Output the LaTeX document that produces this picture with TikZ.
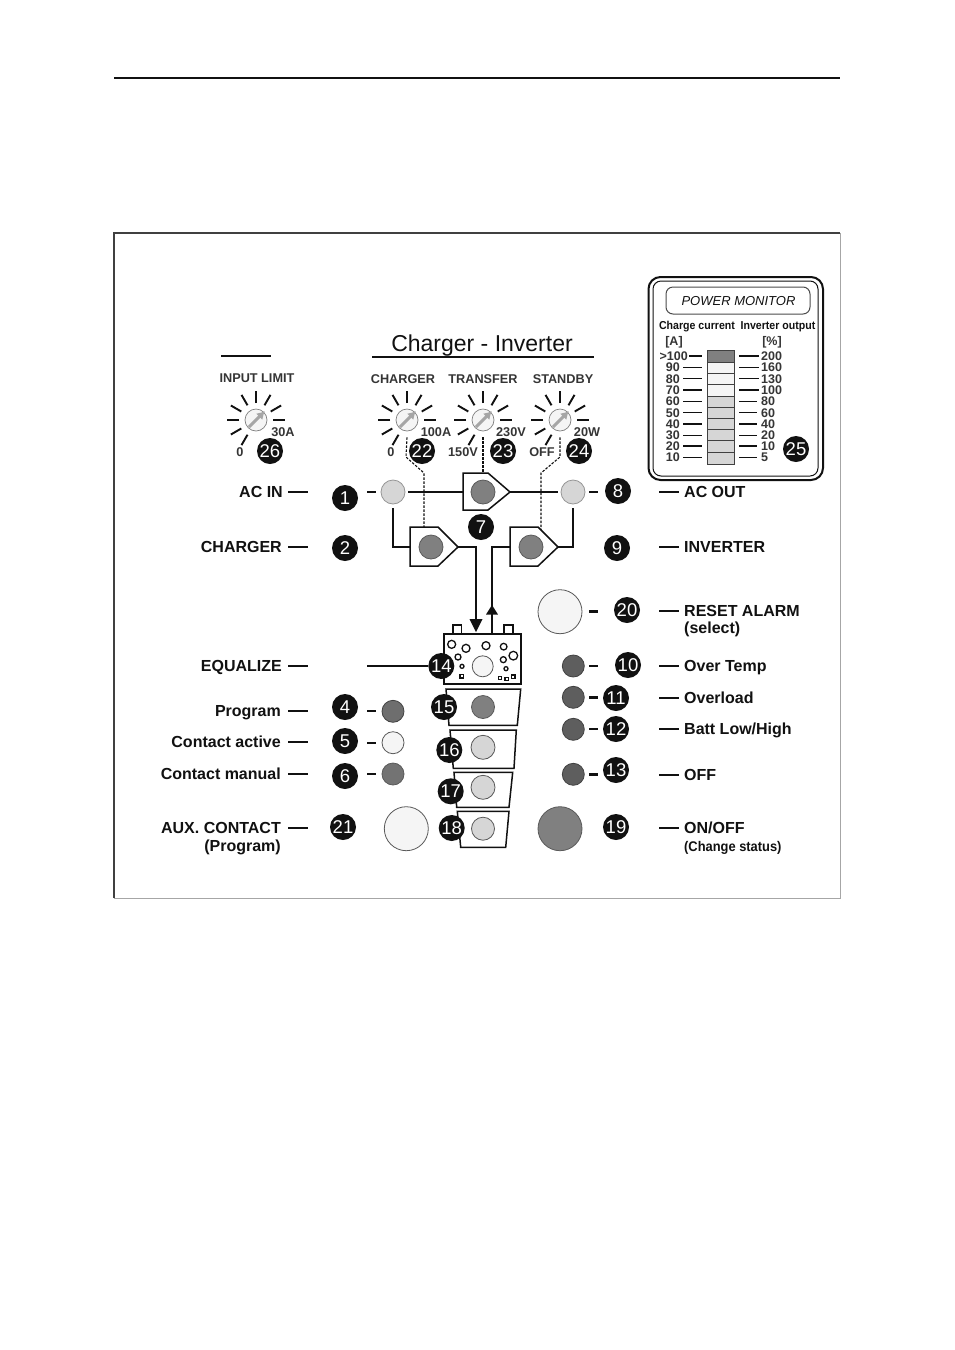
\documentclass[tikz,border=0pt]{standalone}
\usepackage{fontspec}
\setmainfont{Liberation Sans}
\usetikzlibrary{arrows.meta}
\definecolor{ink}{HTML}{111111}
\definecolor{ledL}{HTML}{D6D6D6}
\definecolor{ledM}{HTML}{808080}
\definecolor{ledD}{HTML}{5E5E5E}
\definecolor{ledW}{HTML}{F5F5F5}
\tikzset{
  lbl/.style={font=\fontsize{16}{17}\selectfont\bfseries,text=ink,inner sep=0pt,anchor=base east,yshift=-5.5pt},
  lbr/.style={font=\fontsize{16}{17}\selectfont\bfseries,text=ink,inner sep=0pt,anchor=base west,yshift=-5.5pt},
  small/.style={font=\fontsize{12.7}{13}\selectfont\bfseries,text=ink!85,inner sep=0pt},
  badge/.style={circle,fill=ink,text=white,inner sep=0pt,minimum size=26pt,font=\fontsize{18.5}{19}\selectfont},
  led/.style={circle,draw=#1!70!black,line width=.8pt,inner sep=0pt},
  wire/.style={line width=2.2pt,draw=ink},
  dashline/.style={line width=1.1pt,draw=ink,dash pattern=on 2.5pt off 1.5pt},
  outlined/.style={draw=ink,line width=1.5pt,fill=white,line join=miter},
  mon/.style={font=\fontsize{12.5}{13}\selectfont\bfseries,text=ink!85,inner sep=0pt},
}
\newcommand{\dial}[3]{%
  \node[circle,draw=gray,fill=ledW,minimum size=22pt,inner sep=0pt,line width=.7pt] (#1) at (#2,#3) {};
  \foreach \a in {0,30,60,90,120,150,180,210,240}
    \draw[line width=1.9pt,ink] (#1.center) ++(-\a:17) -- ++(-\a:12);
  \draw[line width=3pt,gray!70,-{Latex[length=8pt,width=9pt]}] (#1.center) ++(-7,7) -- ++(16,-16);
}
\begin{document}
\begin{tikzpicture}[x=1pt,y=-1pt]
\useasboundingbox (0,0) rectangle (954,1350);
\fill[white] (0,0) rectangle (954,1350);
% page rule and frame
\coordinate (ruleL) at (114,78); \coordinate (ruleR) at (840,78);
\draw[line width=1.7pt,ink] (ruleL) -- (ruleR);
\draw[line width=.6pt,gray!70] (840,233) -- (840,898) -- (114,898);
\draw[line width=1.8pt,black!75] (114,898) -- (114,233) -- (840,233);
% titles
\node[inner sep=0pt,text=ink,font=\fontsize{23}{24}\selectfont] (title) at (482,346) {Charger - Inverter};
\draw[line width=1.2pt,ink] (372,357) -- (594,357);
\draw[line width=1.2pt,ink] (221,356) -- (271,356);
\node[small] (tIL) at (257,378) {INPUT LIMIT};
\node[small] (tCH) at (403,379) {CHARGER};
\node[small] (tTR) at (483,379) {TRANSFER};
\node[small] (tSB) at (563,379) {STANDBY};
% dials
\dial{dIL}{256}{420}
\dial{dCH}{407}{420}
\dial{dTR}{483}{420}
\dial{dSB}{560}{420}
\node[small] (a1) at (283,432) {30A};
\node[small] (a2) at (436,432) {100A};
\node[small] (a3) at (511,432) {230V};
\node[small] (a4) at (587,432) {20W};
\node[small] (b1) at (240,452) {0};
\node[small] (b2) at (391,452) {0};
\node[small] (b3) at (463,452) {150V};
\node[small] (b4) at (542,452) {OFF};
% pentagons
\coordinate (p7w) at (463,492); \coordinate (p7e) at (510,492); \coordinate (p7t) at (483,473);
\coordinate (pLw) at (410,547); \coordinate (pLe) at (458,547); \coordinate (pLt) at (424,527);
\coordinate (pRw) at (510,547); \coordinate (pRe) at (558,547); \coordinate (pRt) at (541,530);
% dashed control lines
\draw[dashline] ([yshift=-6pt]dCH.south) -- (406,457) -- (424,473) -- (pLt);
\draw[dashline] ([yshift=-6pt]dTR.south) -- (p7t);
\draw[dashline] ([yshift=-6pt]dSB.south) -- (560,457) -- (541,473) -- (pRt);
\draw[outlined] (463,473) -- (488,473) -- (510,492) -- (488,510) -- (463,510) -- cycle;
\draw[outlined] (410,527) -- (438,527) -- (458,547) -- (438,566) -- (410,566) -- cycle;
\draw[outlined] (510,527) -- (538,527) -- (558,547) -- (538,566) -- (510,566) -- cycle;
\node[led=ledM,fill=ledM,minimum size=24pt] (l7) at (483,492) {};
\node[led=ledM,fill=ledM,minimum size=24pt] (l3) at (431,547) {};
\node[led=ledM,fill=ledM,minimum size=24pt] (l9) at (531,547) {};
\node[led=ledL,fill=ledL,minimum size=24pt] (l1) at (393,492) {};
\node[led=ledL,fill=ledL,minimum size=24pt] (l8) at (573,492) {};
% wires
\draw[wire] ([xshift=3pt]l1.east) -- (p7w);
\draw[wire] (p7e) -- ([xshift=-3pt]l8.west);
\draw[wire] ([yshift=-4pt]l1.south) |- (pLw);
\draw[wire] ([yshift=-4pt]l8.south) |- (pRe);
% equalize block
\coordinate (eqT1) at (476,634); \coordinate (eqT2) at (492,634);
\draw[outlined] (453,634) rectangle (461.5,625);
\draw[outlined] (504,634) rectangle (513,625);
\draw[outlined] (444,634) rectangle (521,684);
\draw[wire] (pLe) -| (476,620);
\draw[wire] (pRw) -| (492,610);
\draw[wire] (492,610) -- (eqT2);
\fill[ink] (476,632) -- (469.5,619) -- (482.5,619) -- cycle;
\fill[ink] (492,605) -- (486,614.5) -- (498,614.5) -- cycle;
\begin{scope}[shift={(360,590)},x=1/3 pt,y=-1/3 pt,line width=1.3pt,ink]
\foreach \cx/\cy/\r in {275/163/12,318/175/12,378/167/12,431/170/10,460/197/13,430/209/9,294/201/9,306/229/6,438/236/6}
  \draw (\cx,\cy) circle[radius=\r];
\foreach \cx/\cy in {305/259,420/264,440/267,460/260}
  \draw (\cx-5,\cy-5) rectangle (\cx+5,\cy+5);
\end{scope}
\node[led=gray,fill=ledW,minimum size=21pt] (lEq) at (482.7,666.3) {};
% trapezoids
\draw[outlined] (446,689) -- (520.7,689) -- (517.3,725.3) -- (449,725.3) -- cycle;
\draw[outlined] (450,730) -- (516.3,730) -- (514,768.3) -- (453.3,768.3) -- cycle;
\draw[outlined] (454,772.3) -- (512.7,772.3) -- (509,807.3) -- (456.7,807.3) -- cycle;
\draw[outlined] (457.3,811.3) -- (509,811.3) -- (505.7,847.3) -- (460.7,847.3) -- cycle;
\node[led=ledM,fill=ledM,minimum size=23pt] (l15) at (483,707) {};
\node[led=gray,fill=ledL,minimum size=24pt] (l16) at (483,747.3) {};
\node[led=gray,fill=ledL,minimum size=24pt] (l17) at (483,787.3) {};
\node[led=gray,fill=ledL,minimum size=23pt] (l18) at (483,828.7) {};
% left LEDs
\node[led=ledD,fill=ledD!90!white,minimum size=22pt] (l4) at (393,711.3) {};
\node[led=gray,fill=ledW,minimum size=22pt] (l5) at (393,742.7) {};
\node[led=ledM,fill=ledM!90!black,minimum size=22pt] (l6) at (393,774) {};
\node[led=gray,fill=ledW,minimum size=44pt] (l21) at (406.3,828.7) {};
\node[led=ledM,fill=ledM,minimum size=44pt] (l19) at (560,828.7) {};
\node[led=gray,fill=ledW,minimum size=44pt] (l20) at (560,611.7) {};
\node[led=ledD,fill=ledD,minimum size=22pt] (l10) at (573.3,666) {};
\node[led=ledD,fill=ledD,minimum size=22pt] (l11) at (573.3,697.3) {};
\node[led=ledD,fill=ledD,minimum size=22pt] (l12) at (573.3,729.3) {};
\node[led=ledD,fill=ledD,minimum size=22pt] (l13) at (573.3,774.3) {};
% short dashes by LEDs
\foreach \y in {492,711,743,774} \draw[wire] (367,\y) -- (376,\y);
\foreach \y in {492,611.5,666,697.5,729,774.5} \draw[wire] (589,\y) -- (598,\y);
% left labels
\foreach \y in {492,547,666,711,742,774,828} \draw[wire] (288,\y) -- (308,\y);
\node[lbl] (tAC) at (283,492) {AC IN};
\node[lbl] (tCG) at (282,547) {CHARGER};
\node[lbl] (tEQ) at (282,666) {EQUALIZE};
\node[lbl] (tPR) at (281,711) {Program};
\node[lbl] (tCA) at (281,742) {Contact active};
\node[lbl] (tCM) at (281,774) {Contact manual};
\node[lbl] (tAU) at (281,828) {AUX. CONTACT};
\node[lbl] (tAP) at (281,846) {(Program)};
% right labels
\foreach \y in {492,547,611,666,698,729,775,828} \draw[wire] (659,\y) -- (679,\y);
\node[lbr] (tAO) at (684,492) {AC OUT};
\node[lbr] (tIN) at (684,547) {INVERTER};
\node[lbr] (tRA) at (684,611) {RESET ALARM};
\node[lbr] (tSE) at (684,628) {(select)};
\node[lbr] (tOT) at (684,666) {Over Temp};
\node[lbr] (tOL) at (684,698) {Overload};
\node[lbr] (tBL) at (684,729) {Batt Low/High};
\node[lbr] (tOF) at (684,775) {OFF};
\node[lbr] (tOO) at (684,828) {ON/OFF};
\node[lbr,font=\fontsize{14}{15}\selectfont\bfseries,xscale=.92] (tCS) at (684,846) {(Change status)};
% equalize line
\coordinate (eqL) at (367,666);
% badges
\node[badge] (n14) at (441.3,666) {14};
\draw[wire] (eqL) -- (n14);
\foreach \n/\x/\y in {1/345/498,2/345/548,4/345/707,5/345/741,6/345/776,21/343/827,
  7/481/527,8/618/491,9/617/548,10/628/665,11/616/698,12/616/729,13/616/770,19/616/827,20/627/610,
  15/444/707,16/449.3/750,17/450.7/791.3,18/451.7/828,22/422/451,23/503/451,24/579/451,26/270/451,25/796/449}
  \node[badge] (n\n) at (\x,\y) {\n};
% power monitor
\draw[line width=2pt,ink,rounded corners=12pt] (648.5,277) rectangle (823,480);
\draw[line width=1pt,ink,rounded corners=8pt] (653,281) rectangle (818,476);
\draw[line width=1pt,black!70,rounded corners=7pt] (666,287) rectangle (810,314);
\node[inner sep=0pt,text=ink,font=\fontsize{13}{14}\selectfont\itshape] (pmT) at (738.5,301) {POWER MONITOR};
\node[inner sep=0pt,text=ink,font=\fontsize{11.5}{12}\selectfont\bfseries,xscale=.92] (pmA) at (697,327) {Charge current};
\node[inner sep=0pt,text=ink,font=\fontsize{11.5}{12}\selectfont\bfseries,xscale=.92] (pmB) at (778,327) {Inverter output};
\node[mon] (pmU) at (674,342) {[A]};
\node[mon] (pmV) at (772,342) {[\%]};
\foreach \ya/\yb/\c in {350/362/ledM,362/373.3/ledW,373.3/384.7/ledW,384.7/396/ledW,396/407.3/ledL,407.3/418/ledL,418/429.3/ledL,429.3/440.7/ledL,440.7/452/ledL,452/464/ledL}
  \draw[line width=.9pt,fill=\c,draw=black!75] (707,\ya) rectangle (734,\yb);
\foreach \y/\e/\l/\r/\xa/\xb in {356/688/>100/200/689/759,367.3/680/90/160/683/759,378.7/680/80/130/683/759,390/680/70/100/683/759,401.3/680/60/80/683/757,412.7/680/50/60/683/757,424/680/40/40/683/757,435.3/680/30/20/683/757,446/680/20/10/683/757,457.3/680/10/5/683/757}{
  \node[mon,anchor=east] at (\e,\y) {\l};
  \node[mon,anchor=west] at (761,\y) {\r};
  \draw[line width=1.1pt,ink] (\xa,\y) -- (702,\y);
  \draw[line width=1.1pt,ink] (739,\y) -- (\xb,\y);
}
\end{tikzpicture}
\end{document}
